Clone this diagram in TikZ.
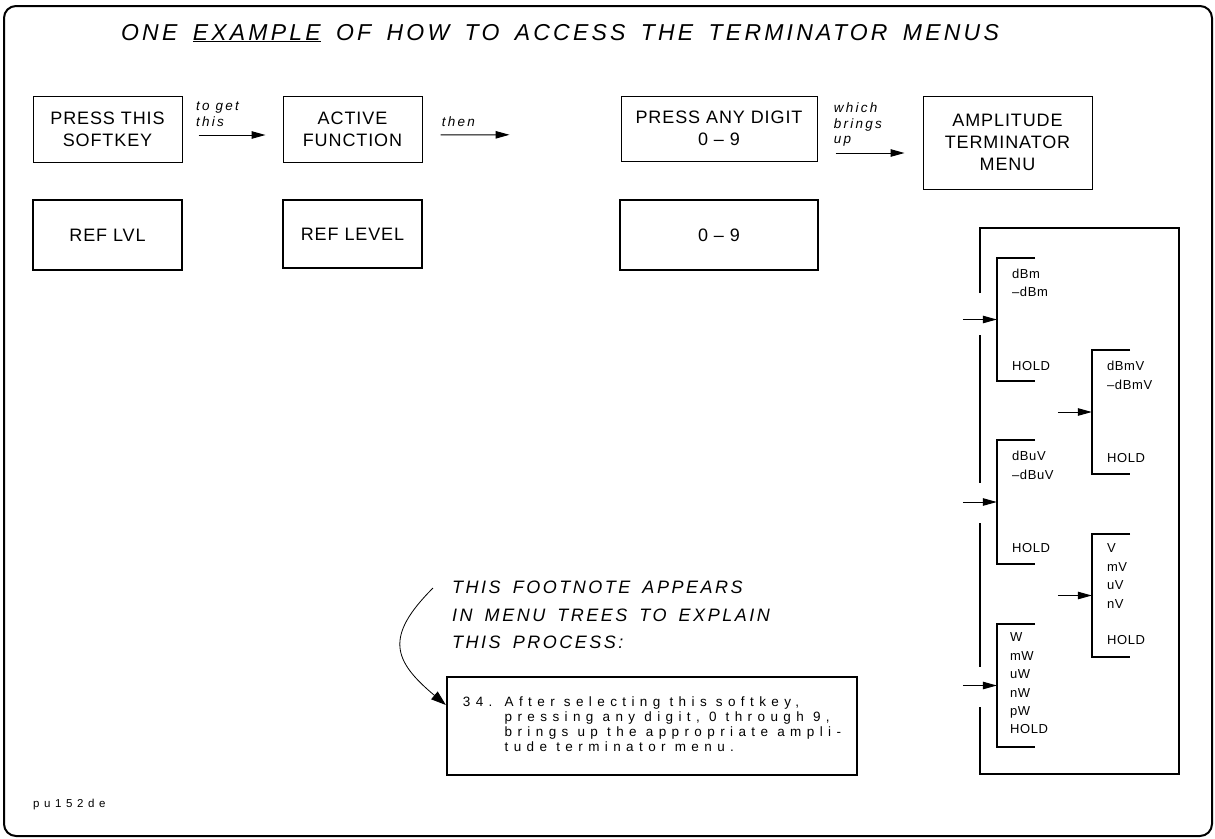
\documentclass[tikz,border=0pt]{standalone}
\usepackage{fontspec}
\usepackage{tikz}
\usetikzlibrary{positioning, calc, arrows.meta}
\newfontfamily\plotfont[LetterSpace=5]{Liberation Sans}
\newfontfamily\widefont[LetterSpace=17]{Liberation Sans}
\newfontfamily\titlefont[LetterSpace=14, WordSpace=1.6]{Liberation Sans}
\newfontfamily\notefont[LetterSpace=40]{Liberation Sans}

\begin{document}
\begin{tikzpicture}[x=1pt, y=-1pt,
    keybox/.style={draw, line width=1pt, inner sep=0pt, align=center, font=\plotfont\fontsize{18}{22}\selectfont},
    valbox/.style={keybox, line width=2.2pt},
    arr/.style={-{Triangle[length=14pt,width=7.5pt]}, line width=1pt},
    lbl/.style={font=\widefont\itshape\fontsize{13.5}{15.5}\selectfont, align=left, inner sep=0pt},
    menu/.style={minimum width=38pt, minimum height=123pt, inner sep=0pt},
    brk/.style={line width=2pt},
    item/.style={font=\plotfont\fontsize{13}{18.4}\selectfont, align=left, inner sep=0pt, anchor=north west}
]
\useasboundingbox (0,0) rectangle (1215,838);
\draw[line width=2pt, rounded corners=12pt] (4,6) rectangle (1212,836);

% Title
\node[font=\titlefont\itshape\fontsize{23}{28}\selectfont] (title) at (560,33)
    {ONE \underline{EXAMPLE} OF HOW TO ACCESS THE TERMINATOR MENUS};

% Softkey row
\node[keybox, minimum width=149pt, minimum height=66pt] (press) at (107.5,129) {PRESS THIS\\SOFTKEY};
\node[keybox, minimum width=139pt, minimum height=66pt] (active) at (352.5,129) {ACTIVE\\FUNCTION};
\node[keybox, minimum width=196pt, minimum height=65pt] (digit) at (719,128.5) {PRESS ANY DIGIT\\0 – 9};
\node[keybox, minimum width=169pt, minimum height=93pt] (ampl) at (1007.5,142.5) {AMPLITUDE\\TERMINATOR\\MENU};

\draw[arr, shorten <=16pt, shorten >=17pt] ([yshift=-6pt]press.east) -- ([yshift=-6pt]active.west)
    node[lbl, anchor=south west, pos=0.13, yshift=8pt] {to get\\this};
\draw[arr, shorten <=18pt, shorten >=111pt] ([yshift=-6pt]active.east) -- ([yshift=-6pt]digit.west)
    node[lbl, anchor=south west, pos=0.095, yshift=8pt] {then};
\draw[arr, shorten <=18pt, shorten >=18pt] ([yshift=-24.5pt]digit.east) -- ([yshift=-10.5pt]ampl.west)
    node[lbl, anchor=south west, pos=0.15, yshift=6pt] {which\\brings\\up};

% Example row
\node[valbox, minimum width=149pt, minimum height=70pt] (reflvl) at (107.5,235) {REF LVL};
\node[valbox, minimum width=139pt, minimum height=68pt] (reflevel) at (352.5,234) {REF LEVEL};
\node[valbox, minimum width=198pt, minimum height=70pt] (digits) at (719,235) {0 – 9};

% Menu tree
\draw[brk] (980,293) -- (980,228) -- (1179,228) -- (1179,774) -- (980,774) -- (980,707);
\draw[brk] (980,335) -- (980,483) (980,523) -- (980,667);
\foreach \n/\x/\y in {m1/1016/319.5, m2/1111/412, m3/1016/502, m4/1111/595.5, m5/1016/685.5} {
    \node[menu] (\n) at (\x,\y) {};
    \draw[brk] (\n.north east) -- (\n.north west) -- (\n.south west) -- (\n.south east);
    \draw[arr] ([xshift=-34pt]\n.west) -- (\n.west);
}
\node[item] (m1txt) at ([xshift=15pt, yshift=-11pt]m1.north west) {dBm\\–dBm\\[55.2pt]HOLD};
\node[item] (m2txt) at ([xshift=15pt, yshift=-11pt]m2.north west) {dBmV\\–dBmV\\[55.2pt]HOLD};
\node[item] (m3txt) at ([xshift=15pt, yshift=-11pt]m3.north west) {dBuV\\–dBuV\\[55.2pt]HOLD};
\node[item] (m4txt) at ([xshift=15pt, yshift=-10pt]m4.north west) {V\\mV\\uV\\nV\\[18.4pt]HOLD};
\node[item] (m5txt) at ([xshift=13pt, yshift=-9pt]m5.north west) {W\\mW\\uW\\nW\\pW\\HOLD};

% Footnote
\node[lbl, font=\titlefont\itshape\fontsize{18}{27.5}\selectfont, anchor=north west] (fn) at (452,581)
    {THIS FOOTNOTE APPEARS\\IN MENU TREES TO EXPLAIN\\THIS PROCESS:};
\node[valbox, minimum width=410pt, minimum height=98pt, font=\notefont\fontsize{13.5}{15}\selectfont] (note) at (652,726)
    {\begin{tabular}{@{}l@{ }l@{}}34.&After selecting this softkey,\\
     &pressing any digit, 0 through 9,\\
     &brings up the appropriate ampli-\\
     &tude terminator menu.\end{tabular}};
\draw[-{Triangle[length=15pt,width=10pt]}, line width=0.8pt, looseness=1.5]
    ([xshift=-19pt, yshift=-7pt]fn.north west) to[out=225, in=140] ([yshift=21pt]note.west);

\node[font=\notefont\fontsize{11.5}{14}\selectfont, anchor=west, inner sep=0pt] (tag) at (33,805) {pu152de};
\end{tikzpicture}
\end{document}
